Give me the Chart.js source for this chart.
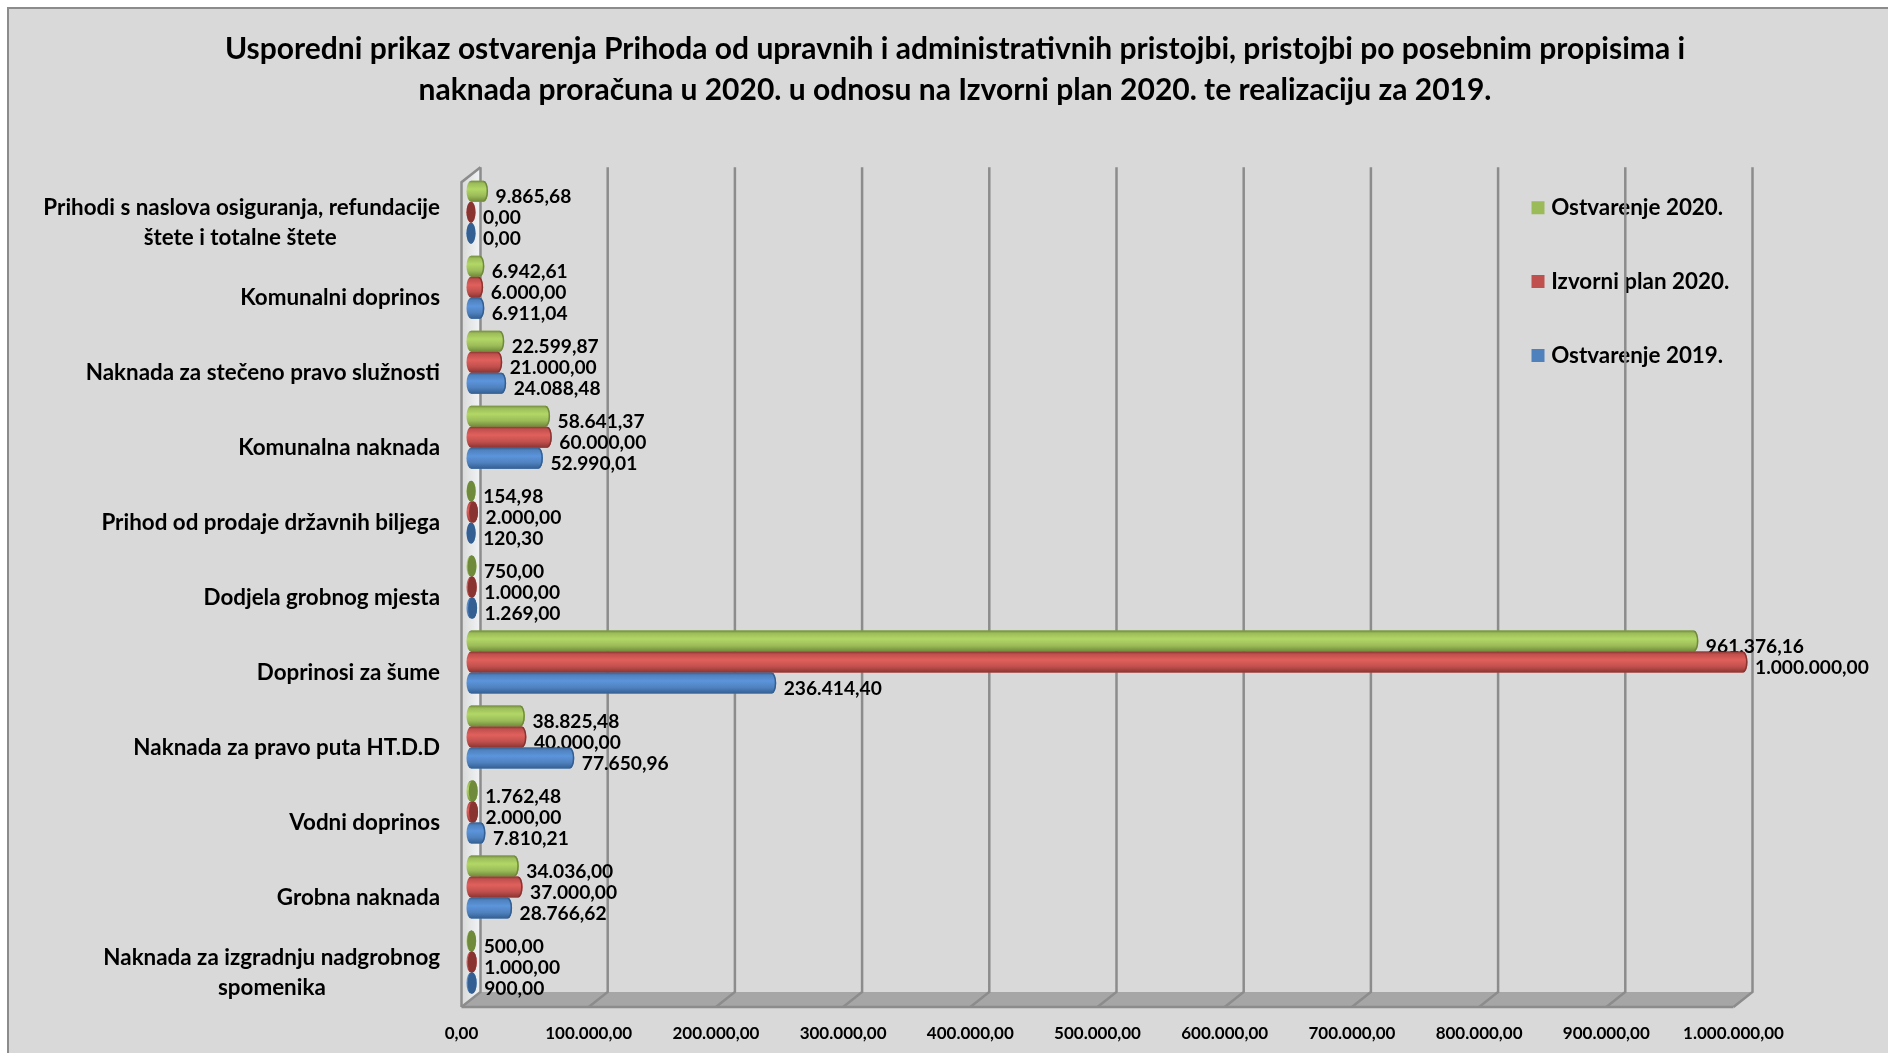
<!DOCTYPE html>
<html>
<head>
<meta charset="utf-8">
<style>
  html, body { margin: 0; padding: 0; background: #fff; overflow: hidden; }
  canvas { display: block; }
</style>
<script src="https://cdn.jsdelivr.net/npm/chart.js@4"></script>
</head>
<body>
<canvas id="grafikon" width="1888" height="1053"></canvas>
<script>
const titleLines = [
  "Usporedni prikaz ostvarenja Prihoda od upravnih i administrativnih pristojbi, pristojbi po posebnim propisima i",
  "naknada proračuna u 2020. u odnosu na Izvorni plan 2020. te realizaciju za 2019."
];
const categories = [
  ["Prihodi s naslova osiguranja, refundacije", "štete i totalne štete"],
  "Komunalni doprinos",
  "Naknada za stečeno pravo služnosti",
  "Komunalna naknada",
  "Prihod od prodaje državnih biljega",
  "Dodjela grobnog mjesta",
  "Doprinosi za šume",
  "Naknada za pravo puta HT.D.D",
  "Vodni doprinos",
  "Grobna naknada",
  ["Naknada za izgradnju nadgrobnog", "spomenika"]
];
const ostvarenje2020 = [9865.68, 6942.61, 22599.87, 58641.37, 154.98, 750, 961376.16, 38825.48, 1762.48, 34036, 500];
const plan2020 = [0, 6000, 21000, 60000, 2000, 1000, 1000000, 40000, 2000, 37000, 1000];
const ostvarenje2019 = [0, 6911.04, 24088.48, 52990.01, 120.3, 1269, 236414.4, 77650.96, 7810.21, 28766.62, 900];

const FONT = "Lato, Carlito, sans-serif";
const DEPTH_X = 9.5;
const DEPTH_Y = 7.5;

function hrBroj(v) {
  const dijelovi = v.toFixed(2).split(".");
  return dijelovi[0].replace(/\B(?=(\d{3})+$)/g, ".") + "," + dijelovi[1];
}

// two-line category labels are centred on each other in the original
const mjera = document.createElement("canvas").getContext("2d");
mjera.font = "bold 22.4px " + FONT;
function yLabel(lbl) {
  if (!Array.isArray(lbl)) return lbl;
  const razlika = mjera.measureText(lbl[0]).width - mjera.measureText(lbl[1]).width;
  const n = Math.round(razlika / 2 / mjera.measureText("\u00a0").width);
  return [lbl[0], lbl[1] + "\u00a0".repeat(n)];
}

const pozadina = {
  id: "pozadina",
  beforeDraw(chart) {
    const c = chart.ctx;
    const w = chart.width, h = chart.height;
    c.save();
    c.fillStyle = "#d9d9d9";
    c.fillRect(8, 8, w - 8, h - 8);
    c.strokeStyle = "#8c8c8c";
    c.lineWidth = 2;
    c.beginPath();
    c.moveTo(8, h);
    c.lineTo(8, 8);
    c.lineTo(w, 8);
    c.stroke();
    c.restore();
  },
  afterLayout(chart) {
    // legend sits over the plot, title is centred on the whole panel
    const l = chart.legend;
    const pad = chart.options.plugins.legend.labels.padding;
    l.left = 1536 - pad;
    l.right = chart.width;
    l.width = l.right - l.left;
    l.top = 196.5 - pad;
    l.bottom = l.top + 400;
    l.height = 400;
    chart.titleBlock.left = 22;
    chart.titleBlock.right = chart.width;
  }
};

// 3d box: side wall, floor and gridlines at the back
const zidovi = {
  id: "zidovi",
  beforeDatasetsDraw(chart) {
    const c = chart.ctx;
    const x = chart.scales.x;
    const a = chart.chartArea;
    const x0 = x.getPixelForValue(0);
    const vrh = a.top - DEPTH_Y, dno = a.bottom - DEPTH_Y;
    const dnoP = a.bottom + DEPTH_Y;
    c.save();
    const g = c.createLinearGradient(x0 - DEPTH_X, 0, x0 + DEPTH_X, 0);
    g.addColorStop(0, "#d9d9d9");
    g.addColorStop(1, "#f2f4f6");
    c.fillStyle = g;
    c.beginPath();
    c.moveTo(x0 - DEPTH_X, a.top + DEPTH_Y);
    c.lineTo(x0 + DEPTH_X, vrh);
    c.lineTo(x0 + DEPTH_X, dno);
    c.lineTo(x0 - DEPTH_X, dnoP);
    c.closePath();
    c.fill();

    c.fillStyle = "#a6a6a6";
    c.beginPath();
    c.moveTo(x0 - DEPTH_X, dnoP);
    c.lineTo(x.getPixelForValue(1000000) - DEPTH_X, dnoP);
    c.lineTo(x.getPixelForValue(1000000) + DEPTH_X, dno);
    c.lineTo(x0 + DEPTH_X, dno);
    c.closePath();
    c.fill();

    c.strokeStyle = "#8c8c8c";
    c.lineWidth = 2.5;
    c.beginPath();
    c.moveTo(x0 - DEPTH_X, dnoP);
    c.lineTo(x0 - DEPTH_X, a.top + DEPTH_Y);
    c.lineTo(x0 + DEPTH_X, vrh);
    c.stroke();
    x.ticks.forEach((t) => {
      const px = x.getPixelForValue(t.value);
      c.beginPath();
      c.moveTo(px + DEPTH_X, vrh);
      c.lineTo(px + DEPTH_X, dno);
      c.lineTo(px - DEPTH_X, dnoP);
      c.stroke();
    });
    c.beginPath();
    c.moveTo(x0 - DEPTH_X, dnoP);
    c.lineTo(x.getPixelForValue(1000000) - DEPTH_X, dnoP);
    c.stroke();
    c.restore();
  }
};

// repaints every bar as a cylinder and writes its value
const valjci = {
  id: "valjci",
  afterDatasetsDraw(chart) {
    const c = chart.ctx;
    chart.data.datasets.forEach((ds, i) => {
      chart.getDatasetMeta(i).data.forEach((el, j) => {
        const { x, y, base, height } = el.getProps(["x", "y", "base", "height"], true);
        const r = height / 2;
        const rx = 4.5;
        const g = c.createLinearGradient(0, y - r, 0, y + r);
        g.addColorStop(0, ds.tamna);
        g.addColorStop(0.12, ds.backgroundColor);
        g.addColorStop(0.4, ds.svijetla);
        g.addColorStop(0.72, ds.backgroundColor);
        g.addColorStop(1, ds.tamna);
        c.save();
        c.fillStyle = g;
        c.beginPath();
        c.ellipse(base, y, rx, r, 0, Math.PI / 2, Math.PI * 1.5);
        c.lineTo(x, y - r);
        c.ellipse(x, y, rx, r, 0, -Math.PI / 2, Math.PI / 2);
        c.closePath();
        c.fill();
        if (x - base < 6) {
          // very short bars read as a dark oval
          c.fillStyle = ds.tamna;
          c.beginPath();
          c.ellipse(x, y, rx, r, 0, 0, Math.PI * 2);
          c.fill();
        } else {
          c.strokeStyle = ds.tamna;
          c.lineWidth = 1.5;
          c.beginPath();
          c.ellipse(x, y, rx - 0.75, r - 0.75, 0, -Math.PI / 2, Math.PI / 2);
          c.stroke();
        }
        c.fillStyle = "#000";
        c.font = "bold 19.2px " + FONT;
        c.textAlign = "left";
        c.textBaseline = "middle";
        c.fillText(hrBroj(ds.data[j]), x + 12, y + 6);
        c.restore();
      });
    });
  }
};

new Chart(document.getElementById("grafikon").getContext("2d"), {
  type: "bar",
  plugins: [pozadina, zidovi, valjci],
  data: {
    labels: categories,
    datasets: [
      { label: "Ostvarenje 2020.", data: ostvarenje2020, backgroundColor: "#9bbb59", svijetla: "#b2d766", tamna: "#6f8a3a" },
      { label: "Izvorni plan 2020.", data: plan2020, backgroundColor: "#c0504d", svijetla: "#e0605c", tamna: "#8a3432" },
      { label: "Ostvarenje 2019.", data: ostvarenje2019, backgroundColor: "#4f81bd", svijetla: "#5c95dc", tamna: "#335f92" }
    ]
  },
  options: {
    indexAxis: "y",
    responsive: false,
    animation: false,
    layout: { padding: { top: 0, right: 145, bottom: 0, left: 0 } },
    datasets: { bar: { barPercentage: 1, categoryPercentage: 0.84 } },
    plugins: {
      title: {
        display: true,
        text: titleLines,
        color: "#000",
        font: { family: FONT, size: 30, weight: "bold", lineHeight: 1.37 },
        padding: { top: 29, bottom: 63.5 }
      },
      legend: {
        position: "chartArea",
        align: "start",
        labels: {
          boxWidth: 4,
          boxHeight: 4,
          padding: 51.5,
          color: "#000",
          font: { family: FONT, size: 22.4, weight: "bold" },
          // thick stroke makes the square; keeps the text close to it like the original
          generateLabels(chart) {
            return Chart.defaults.plugins.legend.labels.generateLabels(chart).map((it) => ({
              ...it, strokeStyle: it.fillStyle, lineWidth: 9
            }));
          }
        }
      },
      tooltip: { enabled: false }
    },
    scales: {
      x: {
        min: 0,
        max: 1000000,
        afterFit(s) { s.height = 53.5; s.paddingLeft = 0; s.paddingRight = 0; },
        grid: { display: false },
        border: { display: false },
        ticks: {
          stepSize: 100000,
          maxRotation: 0,
          autoSkip: false,
          padding: 16,
          labelOffset: -9.5,
          color: "#000",
          font: { family: FONT, size: 17, weight: "bold" },
          callback: (v) => hrBroj(v)
        }
      },
      y: {
        afterFit(s) { s.width = 471; s.paddingTop = 0; s.paddingBottom = 0; },
        grid: { display: false, drawTicks: false },
        border: { display: false },
        ticks: {
          autoSkip: false,
          padding: 31,
          labelOffset: 10.5,
          color: "#000",
          font: { family: FONT, size: 22.4, weight: "bold", lineHeight: 1.34 },
          callback: (v, i) => yLabel(categories[i])
        }
      }
    }
  }
});
</script>
</body>
</html>
